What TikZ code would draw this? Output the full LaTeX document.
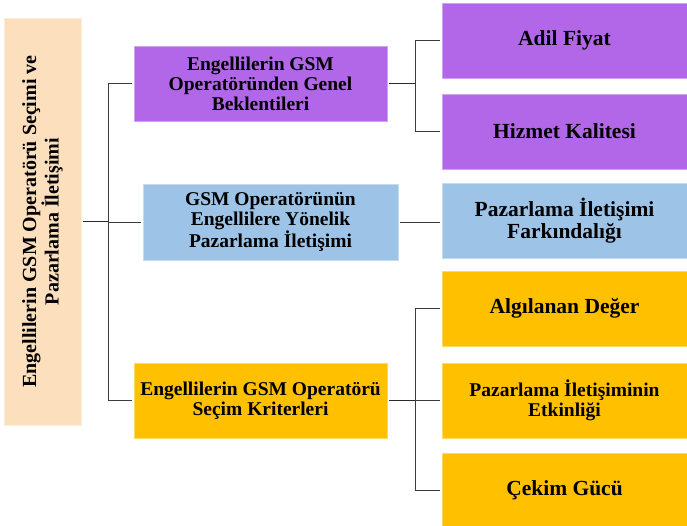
\documentclass[tikz,border=0pt]{standalone}
\usepackage{fontspec}
\setmainfont{Liberation Serif}
\definecolor{mor}{RGB}{178,102,232}
\definecolor{mavi}{RGB}{157,195,230}
\definecolor{sari}{RGB}{255,192,0}
\definecolor{seftali}{RGB}{252,224,190}
\definecolor{cizgi}{RGB}{60,60,60}
\tikzset{
  kutu/.style={rectangle, inner sep=2pt, outer sep=2.5pt, align=center, text=black},
  ortakutu/.style={kutu, minimum width=253pt, minimum height=75pt, font=\fontsize{19.5}{20}\selectfont\bfseries},
  sagkutu/.style={kutu, minimum width=245pt, minimum height=75pt, font=\fontsize{21.5}{22}\selectfont\bfseries},
  ince/.style={draw=cizgi, line width=0.9pt},
  kalin/.style={draw=cizgi!70!black, line width=1.5pt}
}
\begin{document}
\begin{tikzpicture}[x=1pt, y=-1pt, line cap=rect]
  \useasboundingbox (0,0) rectangle (687,526);
  % --- Ana kutu ---
  \node[kutu, fill=seftali, draw=seftali!60!white, rotate=90, minimum width=407pt, minimum height=77pt,
        font=\fontsize{20}{20.5}\selectfont\bfseries] (kok) at (42.5,221.5)
        {Engellilerin GSM Operatörü Seçimi ve\\Pazarlama İletişimi};
  % --- Orta kutular ---
  \node[ortakutu, fill=mor, draw=mor!60!white] (gen) at (260.5,83.5)
        {Engellilerin GSM\\Operatöründen Genel\\Beklentileri};
  \node[ortakutu, fill=mavi, draw=mavi!60!white, minimum width=255pt, minimum height=76pt] (pzi) at (270.5,222)
        {GSM Operatörünün\\Engellilere Yönelik\\Pazarlama İletişimi};
  \node[ortakutu, fill=sari, draw=sari!60!white] (sec) at (260.5,400.5)
        {Engellilerin GSM Operatörü\\Seçim Kriterleri};
  % --- Sağ kutular ---
  \node[sagkutu, fill=mor, draw=mor!60!white] (adil) at (564.5,40.5) {Adil Fiyat};
  \node[sagkutu, fill=mor, draw=mor!60!white] (hiz) at (564.5,131.5) {Hizmet Kalitesi};
  \node[sagkutu, fill=mavi, draw=mavi!60!white] (far) at (564.5,221) {Pazarlama İletişimi\\Farkındalığı};
  \node[sagkutu, fill=sari, draw=sari!60!white] (alg) at (564.5,308.5) {Algılanan Değer};
  \node[sagkutu, fill=sari, draw=sari!60!white, font=\fontsize{19.5}{20}\selectfont\bfseries] (etk) at (564.5,400.5)
        {Pazarlama İletişiminin\\Etkinliği};
  \node[sagkutu, fill=sari, draw=sari!60!white] (cek) at (564.5,490.5) {Çekim Gücü};
  % --- Bağlantılar ---
  \coordinate (omurga) at (108,221.5);
  \coordinate (dal1) at (415,83.5);
  \coordinate (dal2) at (415,400.5);
  \draw[kalin] (kok.south) -- (kok.south -| omurga);
  \draw[ince] (gen.west -| omurga) -- (sec.west -| omurga);
  \foreach \n in {gen,pzi,sec} \draw[ince] (\n.west -| omurga) -- (\n.west);
  \draw[kalin] (gen.east) -- (dal1);
  \draw[ince] (adil.west -| dal1) -- (hiz.west -| dal1);
  \foreach \n in {adil,hiz} \draw[ince] (\n.west -| dal1) -- (\n.west);
  \draw[ince] (pzi.east) -- (pzi.east -| far.west);
  \draw[kalin] (sec.east) -- (dal2);
  \draw[ince] (alg.west -| dal2) -- (cek.west -| dal2);
  \foreach \n in {alg,etk,cek} \draw[ince] (\n.west -| dal2) -- (\n.west);
\end{tikzpicture}
\end{document}
